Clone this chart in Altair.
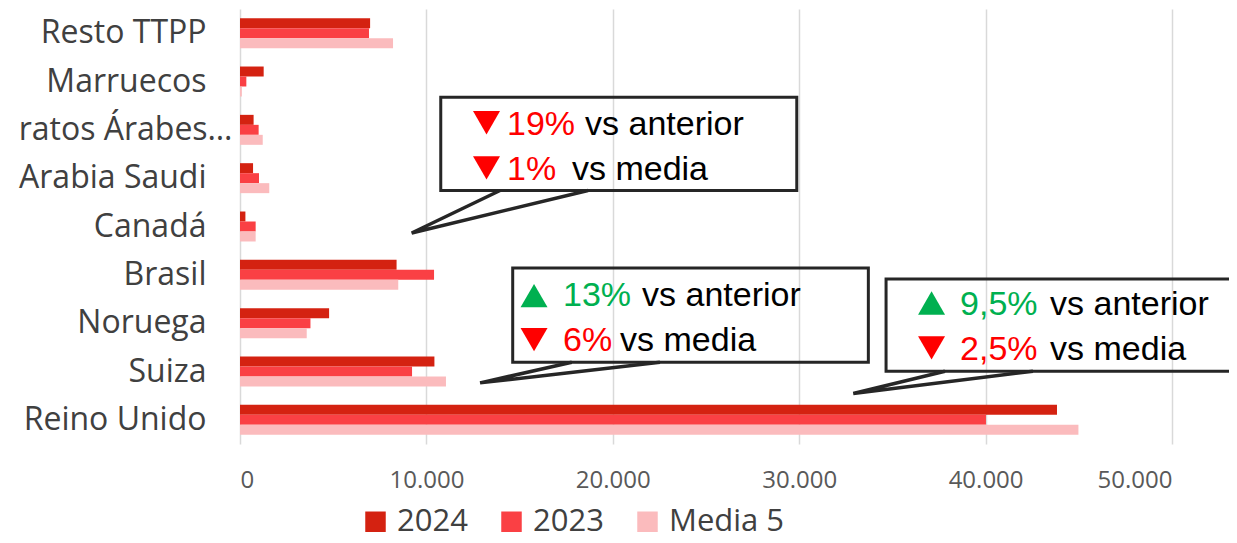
import altair as alt
import pandas as pd

# ---------------- data ----------------
categories = ["Resto TTPP", "Marruecos", "ratos Árabes…", "Arabia Saudi", "Canadá",
              "Brasil", "Noruega", "Suiza", "Reino Unido"]
series = ["2024", "2023", "Media 5"]
v2024 = [6980, 1270, 730, 700, 290, 8400, 4780, 10430, 43830]
v2023 = [6920, 340, 1000, 1020, 840, 10410, 3780, 9230, 40020]
vmedia = [8210, 100, 1220, 1570, 840, 8490, 3580, 11050, 44980]
colors = ["#D42211", "#FA4044", "#FBBBBD"]
x_ticks = [0, 10000, 20000, 30000, 40000, 50000]

# callout texts: (arrow, percent, rest)
callout_lines = [
    [("down", "19%", "vs anterior"), ("down", "1%", "vs media")],
    [("up", "13%", "vs anterior"), ("down", "6%", "vs media")],
    [("up", "9,5%", "vs anterior"), ("down", "2,5%", "vs media")],
]

rows = []
for cat, a, b, c in zip(categories, v2024, v2023, vmedia):
    for s, v in zip(series, [a, b, c]):
        rows.append({"pais": cat, "serie": s, "valor": v})
df = pd.DataFrame(rows)

# ---------------- annotation geometry (x in data units, y in row units from top) ----------------
boxes = pd.DataFrame({
    "x0": [10770, 14630, 34660], "x1": [29870, 33710, 54500],
    "y0": [1.825, 5.358, 5.586], "y1": [3.755, 7.309, 7.495],
})
ptr = []
ptr_geo = [
    ((13950, 3.755), (9210, 4.635), (18670, 3.755)),
    ((17800, 7.309), (12880, 7.735), (22530, 7.309)),
    ((37820, 7.495), (32900, 7.956), (42540, 7.495)),
]
for i, pts in enumerate(ptr_geo):
    for j, (px, py) in enumerate(pts):
        ptr.append({"id": i, "o": j, "x": px, "y": py})
ptr = pd.DataFrame(ptr)

tri_x = [13225, 15775, 37100]
pct_x = [14325, 17330, 38630]
vs_x = [[18510, 17810], [21570, 20390], [43460, 43460]]
tri_y = [[2.353, 3.286], [5.931, 6.840], [6.082, 7.012]]
base_y = [[2.604, 3.534], [6.152, 7.082], [6.324, 7.253]]

tri_rows, pct_rows, vs_rows = [], [], []
for i, lines in enumerate(callout_lines):
    for k, (arrow, pct, rest) in enumerate(lines):
        col = "#00B050" if arrow == "up" else "#FF0000"
        tri_rows.append({"x": tri_x[i], "y": tri_y[i][k],
                         "shape": "triangle-up" if arrow == "up" else "triangle-down", "c": col})
        pct_rows.append({"x": pct_x[i], "y": base_y[i][k], "t": pct, "c": col})
        vs_rows.append({"x": vs_x[i][k], "y": base_y[i][k], "t": rest})
tri_df = pd.DataFrame(tri_rows)
pct_df = pd.DataFrame(pct_rows)
vs_df = pd.DataFrame(vs_rows)

xscale = alt.Scale(domain=[0, 50000], nice=False)
yann = alt.Scale(domain=[0, 9], reverse=True, nice=False, zero=False)

bars = alt.Chart(df).mark_bar().encode(
    x=alt.X("valor:Q", scale=xscale, title=None,
            axis=alt.Axis(values=x_ticks, domain=False, ticks=False, grid=True,
                          gridColor="#D9D9D9", gridWidth=1.5,
                          labelFont="Open Sans", labelFontSize=24, labelColor="#595959",
                          labelPadding=24,
                          labelExpr="replace(format(datum.value, ','), ',', '.')")),
    y=alt.Y("pais:N", sort=categories, title=None,
            scale=alt.Scale(paddingInner=0.38, paddingOuter=0.19),
            axis=alt.Axis(domain=False, ticks=False, grid=False, labelFont="Open Sans",
                          labelFontSize=32, labelColor="#404040",
                          labelPadding={"condition": {"test": "datum.value == 'ratos Árabes…'", "value": 8},
                                        "value": 34},
                          labelLimit=300)),
    yOffset=alt.YOffset("serie:N", sort=series, scale=alt.Scale(paddingInner=0, paddingOuter=0)),
    color=alt.Color("serie:N", sort=series,
                    scale=alt.Scale(domain=series, range=colors),
                    legend=alt.Legend(title=None, orient="none", direction="horizontal",
                                      legendX=120, legendY=497, symbolType="square",
                                      symbolSize=420, symbolStrokeWidth=0,
                                      labelFont="Open Sans", labelFontSize=31,
                                      labelColor="#404040", labelOffset=6,
                                      columnPadding=28, padding=0)),
)

box_layer = alt.Chart(boxes).mark_rect(fillOpacity=0, stroke="#262626", strokeWidth=3).encode(
    x=alt.X("x0:Q", scale=xscale), x2="x1:Q",
    y=alt.Y("y0:Q", scale=yann, axis=None), y2="y1:Q",
)
ptr_layer = alt.Chart(ptr).mark_line(color="#262626", strokeWidth=3.5, strokeJoin="miter").encode(
    x=alt.X("x:Q", scale=xscale),
    y=alt.Y("y:Q", scale=yann, axis=None),
    detail="id:N", order="o:Q",
)
tri_layer = alt.Chart(tri_df).mark_point(filled=True, size=729, opacity=1, strokeWidth=0).encode(
    x=alt.X("x:Q", scale=xscale),
    y=alt.Y("y:Q", scale=yann, axis=None),
    shape=alt.Shape("shape:N", scale=None),
    color=alt.Color("c:N", scale=None),
)
pct_layer = alt.Chart(pct_df).mark_text(align="left", baseline="alphabetic",
                                        font="Liberation Sans", fontSize=34).encode(
    x=alt.X("x:Q", scale=xscale),
    y=alt.Y("y:Q", scale=yann, axis=None),
    text="t:N",
    color=alt.Color("c:N", scale=None),
)
vs_layer = alt.Chart(vs_df).mark_text(align="left", baseline="alphabetic",
                                      font="Liberation Sans", fontSize=34, color="#000000").encode(
    x=alt.X("x:Q", scale=xscale),
    y=alt.Y("y:Q", scale=yann, axis=None),
    text="t:N",
)

ann = alt.layer(box_layer, ptr_layer, tri_layer, pct_layer, vs_layer)

chart = alt.layer(bars, ann).resolve_scale(y="independent", color="independent", shape="independent").properties(
    width=932, height=435,
    autosize=alt.AutoSizeParams(type="none"),
    padding={"left": 232, "top": 1, "right": 57, "bottom": 91},
).configure_view(stroke=None)

chart.save("out.html", embed_options={"renderer": "svg", "actions": False})
